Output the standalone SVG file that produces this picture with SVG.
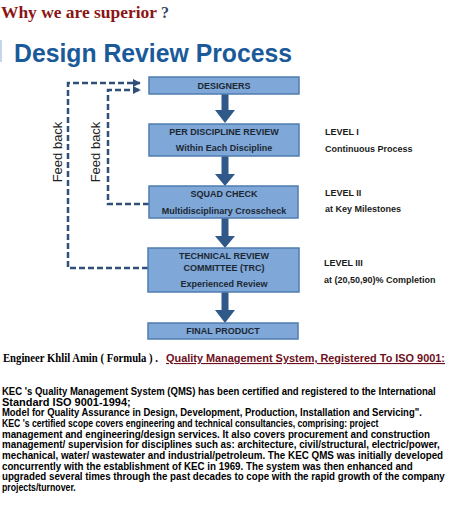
<svg xmlns="http://www.w3.org/2000/svg" width="450" height="509" viewBox="0 0 450 509">
<defs>
<style>
.box{fill:#7fa8d8;stroke:#4f7cb0;stroke-width:1.5}
.bt{font-family:"Liberation Sans",Arial,sans-serif;font-weight:bold;font-size:9px;fill:#1c2733;text-anchor:middle}
.lv{font-family:"Liberation Sans",Arial,sans-serif;font-weight:bold;font-size:9px;fill:#1a1a1a}
.arr{fill:#30598a}
.dash{fill:none;stroke:#2f4f78;stroke-width:2.5;stroke-dasharray:6 3}
.fb{font-family:"Liberation Sans",Arial,sans-serif;font-size:13px;fill:#222;text-anchor:middle}
.para{font-family:"Liberation Sans",Arial,sans-serif;font-weight:bold;font-size:11px;fill:#000}
</style>
<marker id="ah" viewBox="0 0 10 10" refX="9" refY="5" markerWidth="3.2" markerHeight="3.2" orient="auto" markerUnits="strokeWidth">
<path d="M0,0 L10,5 L0,10 z" fill="#2f4f78"/>
</marker>
</defs>
<rect width="450" height="509" fill="#ffffff"/>
<g id="header">
<text x="1" y="18" font-family="'Liberation Serif','Times New Roman',serif" font-weight="bold" font-size="16" fill="#8b1414" textLength="156" lengthAdjust="spacingAndGlyphs">Why we are superior</text>
<text x="161" y="18" font-family="'Liberation Serif','Times New Roman',serif" font-weight="bold" font-size="16" fill="#34495e">?</text>
<rect x="0" y="40" width="2" height="22" fill="#c5d6e8"/>
<text x="14" y="62" font-family="'Liberation Sans',Arial,sans-serif" font-weight="bold" font-size="26" fill="#1b5a9a" textLength="278" lengthAdjust="spacingAndGlyphs">Design Review Process</text>
</g>
<g id="connectors">
<polyline class="dash" points="148,268 68,268 68,83 140,83" marker-end="url(#ah)"/>
<polyline class="dash" points="149,204 108,204 108,90 140,90" marker-end="url(#ah)"/>
<polygon class="arr" points="221.5,94 228.5,94 228.5,110 235,110 225,123 215,110 221.5,110"/>
<polygon class="arr" points="221.5,156 228.5,156 228.5,174 235,174 225,186 215,174 221.5,174"/>
<polygon class="arr" points="221.5,218 228.5,218 228.5,236 235,236 225,248 215,236 221.5,236"/>
<polygon class="arr" points="221.5,292 228.5,292 228.5,310 235,310 225,323 215,310 221.5,310"/>
</g>
<g id="feedback-labels">
<text class="fb" transform="translate(62,152) rotate(-90)">Feed back</text>
<text class="fb" transform="translate(100,152) rotate(-90)">Feed back</text>
</g>
<g id="designers">
<rect class="box" x="149" y="77" width="150" height="17"/>
<text class="bt" x="224" y="89">DESIGNERS</text>
</g>
<g id="per-discipline">
<rect class="box" x="149" y="124" width="150" height="32"/>
<text class="bt" x="224" y="135">PER DISCIPLINE REVIEW</text>
<text class="bt" x="224" y="151">Within Each Discipline</text>
</g>
<g id="squad-check">
<rect class="box" x="149" y="186" width="149" height="32"/>
<text class="bt" x="224" y="197">SQUAD CHECK</text>
<text class="bt" x="224" y="214">Multidisciplinary Crosscheck</text>
</g>
<g id="trc">
<rect class="box" x="148" y="248" width="151" height="44"/>
<text class="bt" x="224" y="259">TECHNICAL REVIEW</text>
<text class="bt" x="224" y="271">COMMITTEE (TRC)</text>
<text class="bt" x="224" y="287">Experienced Review</text>
</g>
<g id="final-product">
<rect class="box" x="148" y="323" width="150" height="16"/>
<text class="bt" x="223" y="334">FINAL PRODUCT</text>
</g>
<g id="levels">
<text class="lv" x="325" y="135">LEVEL I</text>
<text class="lv" x="325" y="152">Continuous Process</text>
<text class="lv" x="325" y="196">LEVEL II</text>
<text class="lv" x="325" y="212">at Key Milestones</text>
<text class="lv" x="324" y="266">LEVEL III</text>
<text class="lv" x="324" y="283">at (20,50,90)% Completion</text>
</g>
<g id="footer">
<text x="3" y="362" font-family="'Liberation Serif','Times New Roman',serif" font-weight="bold" font-size="12" fill="#000" textLength="155" lengthAdjust="spacingAndGlyphs">Engineer Khlil  Amin ( Formula ) .</text>
<text x="166" y="362" font-family="'Liberation Sans',Arial,sans-serif" font-weight="bold" font-size="11" fill="#6e1020" text-decoration="underline" textLength="279" lengthAdjust="spacingAndGlyphs"> Quality Management System, Registered To ISO 9001:</text>
<g transform="scale(0.82,1)">
<text class="para" x="2.4" y="395" textLength="529" lengthAdjust="spacingAndGlyphs">KEC 's Quality Management System (QMS) has been certified and registered to the International</text>
<text class="para" x="2.4" y="405.7" textLength="157" lengthAdjust="spacingAndGlyphs">Standard ISO 9001-1994;</text>
<text class="para" x="2.4" y="416.3" textLength="512" lengthAdjust="spacingAndGlyphs">Model for Quality Assurance in Design, Development, Production, Installation and Servicing".</text>
<text class="para" x="2.4" y="427" textLength="459" lengthAdjust="spacingAndGlyphs">KEC 's certified scope covers engineering and technical consultancies, comprising: project</text>
<text class="para" x="2.4" y="437.7" textLength="522" lengthAdjust="spacingAndGlyphs">management and engineering/design services. It also covers procurement and construction</text>
<text class="para" x="2.4" y="448.3" textLength="534" lengthAdjust="spacingAndGlyphs">management/ supervision for disciplines such as: architecture, civil/structural, electric/power,</text>
<text class="para" x="2.4" y="459" textLength="538" lengthAdjust="spacingAndGlyphs">mechanical, water/ wastewater and industrial/petroleum. The KEC  QMS was initially developed</text>
<text class="para" x="2.4" y="469.7" textLength="501" lengthAdjust="spacingAndGlyphs">concurrently with the establishment of KEC  in 1969. The system was then enhanced and</text>
<text class="para" x="2.4" y="480.3" textLength="540" lengthAdjust="spacingAndGlyphs">upgraded several times through the past decades to cope with the rapid growth of the company</text>
<text class="para" x="2.4" y="491" textLength="90" lengthAdjust="spacingAndGlyphs">projects/turnover.</text>
</g>
</g>
</svg>
